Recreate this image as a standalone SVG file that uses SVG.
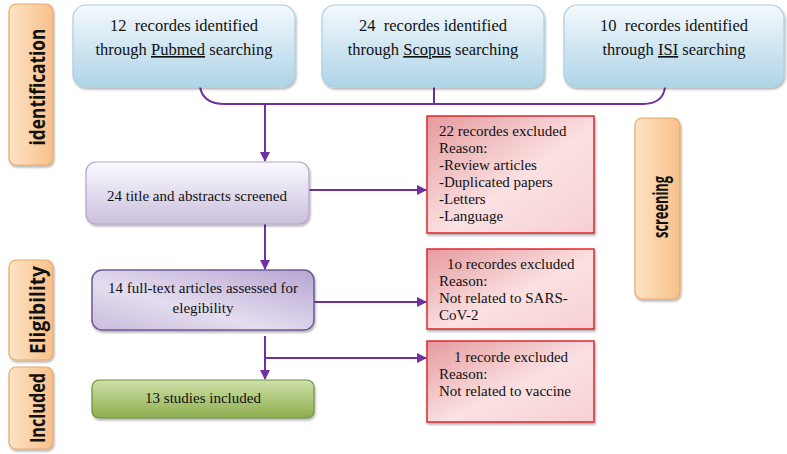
<svg xmlns="http://www.w3.org/2000/svg" width="787" height="454" viewBox="0 0 787 454">
<style>
.t{font-family:'Liberation Serif','Times New Roman','Tinos','Nimbus Roman','DejaVu Serif',serif;font-size:15px;fill:#111}
.tt{font-size:16.5px}
.lab{font-family:'Open Sans','Liberation Sans',sans-serif;font-weight:bold;font-size:21px;fill:#111}
.con{fill:none;stroke:#7030a0;stroke-width:2}
.u{text-decoration:underline}
</style>
<defs>
<linearGradient id="gBlue" x1="0" y1="0" x2="0" y2="1"><stop offset="0" stop-color="#f4f9fc"/><stop offset="1" stop-color="#aed4e8"/></linearGradient>
<linearGradient id="gLav" x1="0" y1="0" x2="0" y2="1"><stop offset="0" stop-color="#fbfaff"/><stop offset="1" stop-color="#cbbfdd"/></linearGradient>
<linearGradient id="gLav2" x1="1" y1="0" x2="0" y2="1"><stop offset="0" stop-color="#b7a5d1"/><stop offset="0.6" stop-color="#e4ddef"/><stop offset="1" stop-color="#c9bcdc"/></linearGradient>
<linearGradient id="gGreen" x1="0" y1="0" x2="0" y2="1"><stop offset="0" stop-color="#cfe0a8"/><stop offset="1" stop-color="#8eae4f"/></linearGradient>
<linearGradient id="gRed" x1="0" y1="0" x2="1" y2="1"><stop offset="0" stop-color="#e59a9e"/><stop offset="0.55" stop-color="#fbe1e2"/><stop offset="1" stop-color="#f6d0d2"/></linearGradient>
<linearGradient id="gOr" x1="0" y1="0" x2="1" y2="0"><stop offset="0" stop-color="#fde3c6"/><stop offset="1" stop-color="#f8c089"/></linearGradient>
<filter id="sh" x="-10%" y="-10%" width="125%" height="130%"><feDropShadow dx="1" dy="2" stdDeviation="1.2" flood-color="#000" flood-opacity="0.3"/></filter>
<marker id="ar" markerWidth="10" markerHeight="10" refX="9" refY="5" orient="auto" markerUnits="userSpaceOnUse"><path d="M0,0 L10,5 L0,10 Z" fill="#7030a0"/></marker>
</defs>

<g id="connectors">
<path class="con" d="M200,87 Q203,104 225,104 L643,104 Q663,104 665,87"/>
<path class="con" d="M434,87 L434,104"/>
<path class="con" d="M265,104 L265,161" marker-end="url(#ar)"/>
<path class="con" d="M309,190 L426,190" marker-end="url(#ar)"/>
<path class="con" d="M265,224 L265,269" marker-end="url(#ar)"/>
<path class="con" d="M314,302 L426,302" marker-end="url(#ar)"/>
<path class="con" d="M265,336 L265,379" marker-end="url(#ar)"/>
<path class="con" d="M265,358 L426,358" marker-end="url(#ar)"/>
</g>

<g id="label-identification">
<rect x="9" y="4" width="44" height="161" rx="7" fill="url(#gOr)" stroke="#eaa86a" stroke-width="1.2" filter="url(#sh)"/>
<text class="lab" transform="translate(45,87) rotate(-90)" text-anchor="middle" textLength="117" lengthAdjust="spacingAndGlyphs">identification</text>
</g>
<g id="label-eligibility">
<rect x="9" y="260" width="44" height="100" rx="7" fill="url(#gOr)" stroke="#eaa86a" stroke-width="1.2" filter="url(#sh)"/>
<text class="lab" transform="translate(45,310) rotate(-90)" text-anchor="middle" textLength="88" lengthAdjust="spacingAndGlyphs">Eligibility</text>
</g>
<g id="label-included">
<rect x="9" y="367" width="44" height="82" rx="7" fill="url(#gOr)" stroke="#eaa86a" stroke-width="1.2" filter="url(#sh)"/>
<text class="lab" transform="translate(45,408) rotate(-90)" text-anchor="middle" textLength="70" lengthAdjust="spacingAndGlyphs">Included</text>
</g>
<g id="label-screening">
<rect x="635" y="118" width="45" height="181" rx="7" fill="url(#gOr)" stroke="#eaa86a" stroke-width="1.2" filter="url(#sh)"/>
<text class="lab" transform="translate(668,207) rotate(-90)" text-anchor="middle" textLength="62" lengthAdjust="spacingAndGlyphs">screening</text>
</g>

<g id="pubmed">
<rect x="73" y="5" width="222" height="82" rx="13" fill="url(#gBlue)" stroke="#a9cfe0" stroke-width="1.2" filter="url(#sh)"/>
<text class="t tt" x="184" y="31" text-anchor="middle" xml:space="preserve">12  recordes identified</text>
<text class="t tt" x="184" y="55" text-anchor="middle">through <tspan class="u">Pubmed</tspan> searching</text>
</g>
<g id="scopus">
<rect x="322" y="5" width="222" height="82" rx="13" fill="url(#gBlue)" stroke="#a9cfe0" stroke-width="1.2" filter="url(#sh)"/>
<text class="t tt" x="433" y="31" text-anchor="middle" xml:space="preserve">24  recordes identified</text>
<text class="t tt" x="433" y="55" text-anchor="middle">through <tspan class="u">Scopus</tspan> searching</text>
</g>
<g id="isi">
<rect x="564" y="5" width="220" height="82" rx="13" fill="url(#gBlue)" stroke="#a9cfe0" stroke-width="1.2" filter="url(#sh)"/>
<text class="t tt" x="674" y="31" text-anchor="middle" xml:space="preserve">10  recordes identified</text>
<text class="t tt" x="674" y="55" text-anchor="middle">through <tspan class="u">ISI</tspan> searching</text>
</g>

<g id="screened">
<rect x="86" y="162" width="223" height="62" rx="10" fill="url(#gLav)" stroke="#b3a3cc" stroke-width="1.2" filter="url(#sh)"/>
<text class="t" x="197" y="201" text-anchor="middle">24 title and abstracts screened</text>
</g>
<g id="fulltext">
<rect x="92" y="270" width="222" height="60" rx="10" fill="url(#gLav2)" stroke="#6e5a96" stroke-width="1.5" filter="url(#sh)"/>
<text class="t" x="203" y="293" text-anchor="middle">14 full-text articles assessed for</text>
<text class="t" x="203" y="313" text-anchor="middle">elegibility</text>
</g>
<g id="included">
<rect x="92" y="380" width="222" height="38" rx="7" fill="url(#gGreen)" stroke="#6f8f3d" stroke-width="1.2" filter="url(#sh)"/>
<text class="t" x="203" y="403" text-anchor="middle">13 studies included</text>
</g>

<g id="excluded1">
<rect x="427" y="116" width="167" height="117" fill="url(#gRed)" stroke="#e0262e" stroke-width="1.5" filter="url(#sh)"/>
<text class="t" x="439" y="136">22 recordes excluded</text>
<text class="t" x="439" y="153">Reason:</text>
<text class="t" x="439" y="170">-Review articles</text>
<text class="t" x="439" y="187">-Duplicated papers</text>
<text class="t" x="439" y="204">-Letters</text>
<text class="t" x="439" y="221">-Language</text>
</g>
<g id="excluded2">
<rect x="427" y="249" width="167" height="80" fill="url(#gRed)" stroke="#e0262e" stroke-width="1.5" filter="url(#sh)"/>
<text class="t" x="447" y="269">1o recordes excluded</text>
<text class="t" x="439" y="286">Reason:</text>
<text class="t" x="439" y="303">Not related to SARS-</text>
<text class="t" x="439" y="320">CoV-2</text>
</g>
<g id="excluded3">
<rect x="427" y="341" width="167" height="81" fill="url(#gRed)" stroke="#e0262e" stroke-width="1.5" filter="url(#sh)"/>
<text class="t" x="454" y="362">1 recorde excluded</text>
<text class="t" x="439" y="379">Reason:</text>
<text class="t" x="439" y="396">Not related to vaccine</text>
</g>
</svg>
